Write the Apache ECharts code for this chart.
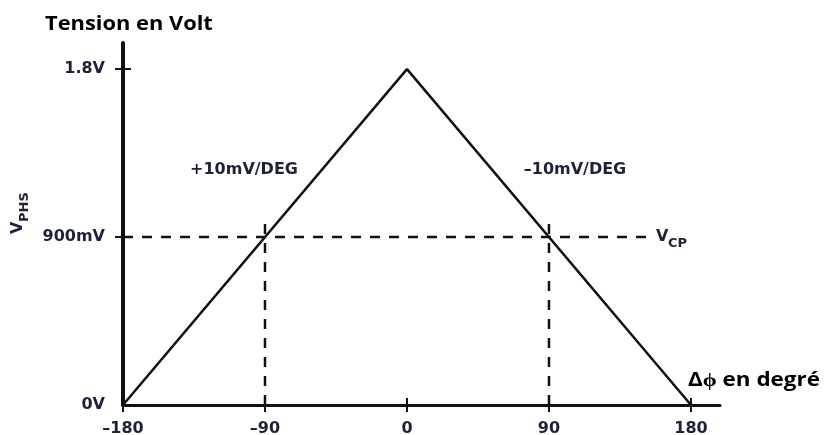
<!DOCTYPE html>
<html>
<head>
<meta charset="utf-8">
<script src="https://cdn.jsdelivr.net/npm/echarts@6/dist/echarts.min.js"></script>
<style>
html,body{margin:0;padding:0;background:#fff;}
#chart{width:824px;height:435px;}
</style>
</head>
<body>
<div id="chart"></div>
<script>
// ---- data ----
const xTicks = [-180, -90, 0, 90, 180];
const xTickLabels = ['\u2013180', '\u201390', '0', '90', '180'];
const yTicks = [0, 0.9, 1.8];
const yTickLabels = ['0V', '900mV', '1.8V'];
const phase = [-180, 0, 180];
const voltage = [0, 1.8, 0];
const vcpPhase = [-180, 154];
const vcpLevel = [0.9, 0.9];
const markerPhases = [-90, 90];
const markerBottom = 0;
const markerTop = 1.0;

const X_MIN = -180, X_MAX = 198.4, Y_MIN = 0, Y_MAX = 1.94;
const labelColor = '#1e2236';
const labelFont = { fontFamily: 'DejaVu Sans', fontWeight: 'bold', fontSize: 16, color: labelColor };

const chart = echarts.init(document.getElementById('chart'), null, { renderer: 'canvas' });

function xLabel(v) { const i = xTicks.indexOf(v); return i >= 0 ? xTickLabels[i] : ''; }
function yLabel(v) { const i = yTicks.indexOf(v); return i >= 0 ? yTickLabels[i] : ''; }

const gridBox = { left: 123, right: 104, top: 43, bottom: 30, containLabel: false, outerBoundsMode: 'none' };

const series = [
  {
    type: 'line', xAxisIndex: 0, yAxisIndex: 0, symbol: 'none', silent: true,
    data: phase.map((p, i) => [p, voltage[i]]),
    lineStyle: { color: '#111', width: 2.5 }, z: 5
  },
  {
    type: 'line', xAxisIndex: 0, yAxisIndex: 0, symbol: 'none', silent: true,
    data: vcpPhase.map((p, i) => [p, vcpLevel[i]]),
    lineStyle: { color: '#111', width: 2.5, type: [10, 9] }, z: 4
  },
  {
    type: 'line', xAxisIndex: 1, yAxisIndex: 1, symbol: 'none', silent: true,
    data: [], lineStyle: { opacity: 0 }
  }
];
markerPhases.forEach(p => {
  series.push({
    type: 'line', xAxisIndex: 0, yAxisIndex: 0, symbol: 'none', silent: true,
    data: [[p, markerBottom], [p, markerTop]],
    lineStyle: { color: '#111', width: 2.5, type: [10, 9] }, z: 4
  });
});

const option = {
  backgroundColor: '#ffffff',
  animation: false,
  grid: [Object.assign({}, gridBox), Object.assign({}, gridBox)],
  xAxis: [
    {
      type: 'value', gridIndex: 0, min: X_MIN, max: X_MAX, position: 'bottom',
      axisLine: { show: true, onZero: false, lineStyle: { color: '#111', width: 3 } },
      axisTick: { show: true, inside: false, length: 7, customValues: xTicks, lineStyle: { color: '#111', width: 2 } },
      axisLabel: Object.assign({ show: true, margin: 16, customValues: xTicks, formatter: xLabel }, labelFont),
      splitLine: { show: false }
    },
    {
      type: 'value', gridIndex: 1, min: X_MIN, max: X_MAX, position: 'bottom',
      axisLine: { show: true, onZero: false, lineStyle: { color: '#111', width: 3, opacity: 0 } },
      axisTick: { show: true, inside: true, length: 7, customValues: xTicks, lineStyle: { color: '#111', width: 2 } },
      axisLabel: { show: false },
      splitLine: { show: false }
    }
  ],
  yAxis: [
    {
      type: 'value', gridIndex: 0, min: Y_MIN, max: Y_MAX, position: 'left',
      axisLine: { show: true, onZero: false, lineStyle: { color: '#111', width: 4 } },
      axisTick: { show: true, inside: false, length: 8, customValues: [yTicks[1], yTicks[2]], lineStyle: { color: '#111', width: 2 } },
      axisLabel: Object.assign({ show: true, margin: 18, customValues: yTicks, formatter: yLabel }, labelFont),
      splitLine: { show: false }
    },
    {
      type: 'value', gridIndex: 1, min: Y_MIN, max: Y_MAX, position: 'left',
      axisLine: { show: true, onZero: false, lineStyle: { color: '#111', width: 4, opacity: 0 } },
      axisTick: { show: true, inside: true, length: 8, customValues: [yTicks[1], yTicks[2]], lineStyle: { color: '#111', width: 2 } },
      axisLabel: { show: false },
      splitLine: { show: false }
    }
  ],
  series: series,
  graphic: [
    { type: 'text', x: 45, y: 15, scaleX: 1.15, style: { text: 'Tension en Volt', fontFamily: 'Open Sans', fontWeight: 'bold', fontSize: 19, fill: '#000' } },
    { type: 'text', x: 688, y: 371, scaleX: 1.18, style: { text: '\u0394\u03d5 en degr\u00e9', fontFamily: 'Open Sans', fontWeight: 'bold', fontSize: 19, fill: '#000' } },
    { type: 'text', x: 244, y: 170, style: { text: '+10mV/DEG', align: 'center', verticalAlign: 'middle', fontFamily: 'DejaVu Sans', fontWeight: 'bold', fontSize: 16, fill: labelColor } },
    { type: 'text', x: 575, y: 170, style: { text: '\u201310mV/DEG', align: 'center', verticalAlign: 'middle', fontFamily: 'DejaVu Sans', fontWeight: 'bold', fontSize: 16, fill: labelColor } },
    { type: 'text', x: 656, y: 237, style: { text: 'V', align: 'left', verticalAlign: 'middle', fontFamily: 'DejaVu Sans', fontWeight: 'bold', fontSize: 16, fill: labelColor } },
    { type: 'text', x: 668, y: 244, style: { text: 'CP', align: 'left', verticalAlign: 'middle', fontFamily: 'DejaVu Sans', fontWeight: 'bold', fontSize: 13, fill: labelColor } },
    {
      type: 'group', x: 18, y: 234, rotation: Math.PI / 2,
      children: [
        { type: 'text', x: 0, y: 0, style: { text: 'V', align: 'left', verticalAlign: 'middle', fontFamily: 'DejaVu Sans', fontWeight: 'bold', fontSize: 16, fill: labelColor } },
        { type: 'text', x: 12, y: 7, style: { text: 'PHS', align: 'left', verticalAlign: 'middle', fontFamily: 'DejaVu Sans', fontWeight: 'bold', fontSize: 13, fill: labelColor } }
      ]
    }
  ]
};
chart.setOption(option);
</script>
</body>
</html>
